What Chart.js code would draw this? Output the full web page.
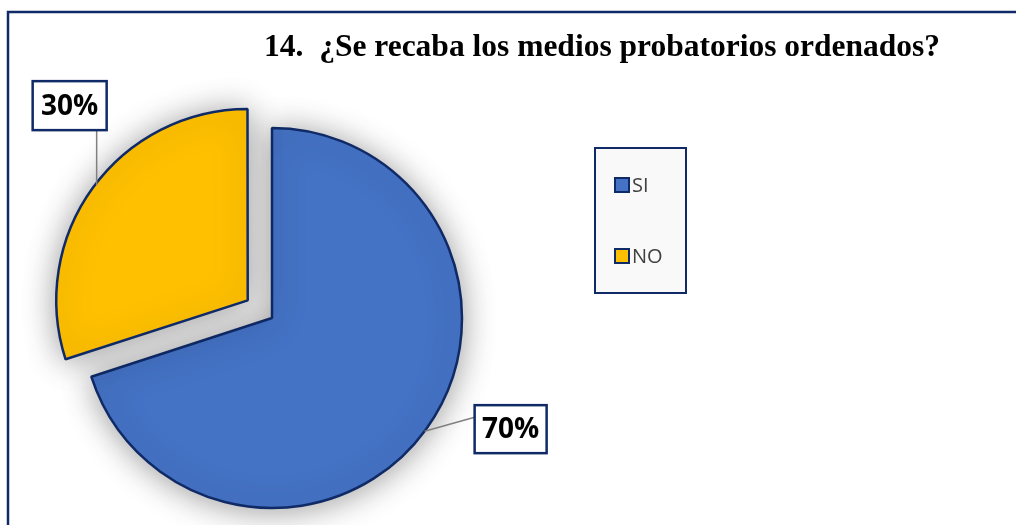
<!DOCTYPE html>
<html><head><meta charset="utf-8">
<script src="https://cdn.jsdelivr.net/npm/chart.js@4/dist/chart.umd.min.js"></script>
<style>html,body{margin:0;padding:0;background:#fff;overflow:hidden}</style>
</head><body>
<canvas id="c" width="1016" height="525"></canvas>
<script>
const TITLE = '14.  ¿Se recaba los medios probatorios ordenados?';
const categories = ['SI', 'NO'];
const values = [70, 30];
const valueLabels = ['70%', '30%'];

const COLORS = ['#4472C4', '#FFC000'];
const NAVY = '#0F2A66';
const EXPLODE = [0, 120];
// data-label placement relative to a point on each slice's outer edge
const LABEL_PLACE = [
  {angle: 0.638, dx: 50, dy: -26, w: 72, h: 48, line: 'left'},
  {angle: -2.49, dx: -64, dy: -104, w: 74, h: 49, line: 'bottom'}
];

const decor = {
  id: 'decor',
  beforeDraw(chart) {
    const ctx = chart.ctx;
    ctx.save();
    ctx.fillStyle = '#fff';
    ctx.fillRect(0, 0, chart.width, chart.height);
    ctx.strokeStyle = NAVY;
    ctx.lineWidth = 2.5;
    ctx.strokeRect(8, 12, chart.width + 20, chart.height + 20);
    ctx.restore();
  },
  beforeDatasetsDraw(chart) {
    const ctx = chart.ctx;
    ctx.save();
    ctx.shadowColor = 'rgba(0,0,0,0.38)';
    ctx.shadowBlur = 32;
    ctx.shadowOffsetX = 0;
    ctx.shadowOffsetY = 2;
  },
  afterDatasetsDraw(chart) {
    const ctx = chart.ctx;
    ctx.restore();
    ctx.save();
    // title
    ctx.fillStyle = '#000';
    ctx.font = 'bold 31.5px "Liberation Serif", "Times New Roman", serif';
    ctx.textBaseline = 'alphabetic';
    ctx.textAlign = 'left';
    ctx.fillText(TITLE, 264, 56);

    // legend
    const lx = 595, ly = 148, lw = 91, lh = 145;
    ctx.fillStyle = '#F9F9F9';
    ctx.fillRect(lx, ly, lw, lh);
    ctx.strokeStyle = NAVY;
    ctx.lineWidth = 2;
    ctx.strokeRect(lx, ly, lw, lh);
    ctx.font = '20px "Open Sans", sans-serif';
    ctx.textBaseline = 'middle';
    chart.data.labels.forEach((lab, i) => {
      const cy = 185 + i * 71;
      ctx.fillStyle = COLORS[i];
      ctx.fillRect(615, cy - 7, 14, 14);
      ctx.strokeStyle = NAVY;
      ctx.lineWidth = 2;
      ctx.strokeRect(615, cy - 7, 14, 14);
      ctx.fillStyle = '#404040';
      ctx.fillText(lab, 632, cy + 1);
    });

    // data labels
    const meta = chart.getDatasetMeta(0);
    meta.data.forEach((arc, i) => {
      const p = LABEL_PLACE[i];
      const mid = (arc.startAngle + arc.endAngle) / 2;
      const off = (EXPLODE[i] || 0) / 4;
      const cx = arc.x + Math.cos(mid) * off;
      const cy = arc.y + Math.sin(mid) * off;
      const ax = cx + Math.cos(p.angle) * arc.outerRadius;
      const ay = cy + Math.sin(p.angle) * arc.outerRadius;
      const bx = ax + p.dx, by = ay + p.dy;
      ctx.strokeStyle = '#808080';
      ctx.lineWidth = 1.5;
      ctx.beginPath();
      ctx.moveTo(ax, ay);
      if (p.line === 'left') ctx.lineTo(bx, by + 12);
      else ctx.lineTo(ax, by + p.h);
      ctx.stroke();
      ctx.fillStyle = '#fff';
      ctx.fillRect(bx, by, p.w, p.h);
      ctx.strokeStyle = NAVY;
      ctx.lineWidth = 2.5;
      ctx.strokeRect(bx, by, p.w, p.h);
      ctx.fillStyle = '#000';
      ctx.font = 'bold 28px "Open Sans", sans-serif';
      ctx.textAlign = 'center';
      ctx.textBaseline = 'middle';
      ctx.fillText(valueLabels[i], bx + p.w / 2, by + p.h / 2 + 1);
    });
    ctx.restore();
  }
};

new Chart(document.getElementById('c'), {
  type: 'pie',
  data: {
    labels: categories,
    datasets: [{
      data: values,
      backgroundColor: COLORS,
      borderColor: NAVY,
      borderWidth: 2.5,
      offset: EXPLODE,
      hoverOffset: 0
    }]
  },
  options: {
    responsive: false,
    animation: false,
    devicePixelRatio: 1,
    radius: 190,
    layout: {padding: {left: 0, right: 472, top: 111, bottom: 0}},
    plugins: {legend: {display: false}, tooltip: {enabled: false}, title: {display: false}}
  },
  plugins: [decor]
});
</script>
</body></html>
